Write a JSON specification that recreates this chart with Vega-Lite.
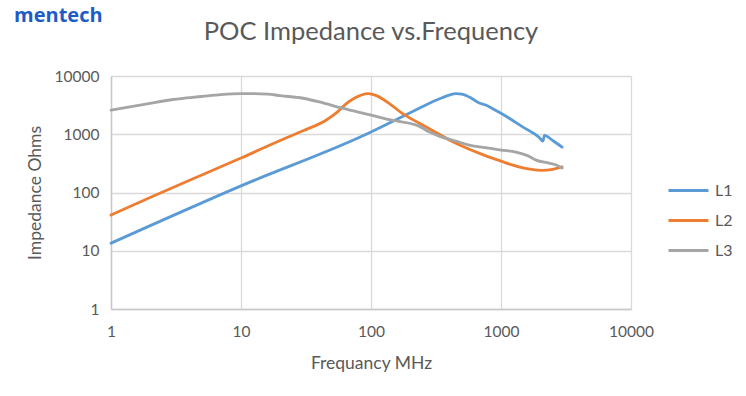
{
  "$schema": "https://vega.github.io/schema/vega-lite/v6.json",
  "padding": {"left": 14, "top": 5, "right": 5, "bottom": 5},
  "background": "white",
  "title": {"text": "mentech", "anchor": "start", "frame": "bounds", "font": "Open Sans", "fontSize": 20, "fontWeight": "bold", "color": "#1D5BC6", "offset": -6, "dx": -12},
  "config": {
    "view": {"stroke": null},
    "font": "Lato",
    "axis": {
      "gridColor": "#D9D9D9", "gridWidth": 1.3, "domainColor": "#C8C8C8", "domainWidth": 1.5,
      "ticks": false, "labelFlush": false, "labelOverlap": false, "labelColor": "#595959", "labelFont": "Lato", "labelFontSize": 15.5,
      "titleColor": "#595959", "titleFont": "Lato", "titleFontSize": 17.5, "titleFontWeight": "normal"
    },
    "legend": {"labelColor": "#595959", "labelFont": "Lato", "labelFontSize": 16}
  },
  "vconcat": [
    {
      "width": 520,
      "height": 233,
      "title": {"text": "POC Impedance vs.Frequency", "fontSize": 25.5, "color": "#595959", "font": "Lato", "fontWeight": "normal", "anchor": "middle", "offset": 24},
      "data": {"values": [
        {"f": 1, "z": 13.5, "s": "L1"},
        {"f": 10, "z": 130, "s": "L1"},
        {"f": 100, "z": 1090, "s": "L1"},
        {"f": 150, "z": 1700, "s": "L1"},
        {"f": 200, "z": 2350, "s": "L1"},
        {"f": 250, "z": 3000, "s": "L1"},
        {"f": 300, "z": 3650, "s": "L1"},
        {"f": 350, "z": 4200, "s": "L1"},
        {"f": 400, "z": 4700, "s": "L1"},
        {"f": 450, "z": 5000, "s": "L1"},
        {"f": 510, "z": 4850, "s": "L1"},
        {"f": 570, "z": 4350, "s": "L1"},
        {"f": 680, "z": 3450, "s": "L1"},
        {"f": 770, "z": 3150, "s": "L1"},
        {"f": 850, "z": 2800, "s": "L1"},
        {"f": 1000, "z": 2290, "s": "L1"},
        {"f": 1500, "z": 1300, "s": "L1"},
        {"f": 1960, "z": 890, "s": "L1"},
        {"f": 2100, "z": 760, "s": "L1"},
        {"f": 2160, "z": 960, "s": "L1"},
        {"f": 2500, "z": 780, "s": "L1"},
        {"f": 2950, "z": 600, "s": "L1"},
        {"f": 1, "z": 41, "s": "L2"},
        {"f": 2, "z": 82, "s": "L2"},
        {"f": 5, "z": 200, "s": "L2"},
        {"f": 10, "z": 390, "s": "L2"},
        {"f": 20, "z": 780, "s": "L2"},
        {"f": 30, "z": 1150, "s": "L2"},
        {"f": 45, "z": 1740, "s": "L2"},
        {"f": 55, "z": 2400, "s": "L2"},
        {"f": 64, "z": 3300, "s": "L2"},
        {"f": 75, "z": 4200, "s": "L2"},
        {"f": 95, "z": 5000, "s": "L2"},
        {"f": 110, "z": 4600, "s": "L2"},
        {"f": 140, "z": 3300, "s": "L2"},
        {"f": 173, "z": 2300, "s": "L2"},
        {"f": 234, "z": 1560, "s": "L2"},
        {"f": 300, "z": 1150, "s": "L2"},
        {"f": 400, "z": 800, "s": "L2"},
        {"f": 500, "z": 630, "s": "L2"},
        {"f": 700, "z": 460, "s": "L2"},
        {"f": 1000, "z": 345, "s": "L2"},
        {"f": 1370, "z": 275, "s": "L2"},
        {"f": 2050, "z": 240, "s": "L2"},
        {"f": 2500, "z": 250, "s": "L2"},
        {"f": 2950, "z": 275, "s": "L2"},
        {"f": 1, "z": 2600, "s": "L3"},
        {"f": 2, "z": 3400, "s": "L3"},
        {"f": 3, "z": 3950, "s": "L3"},
        {"f": 5, "z": 4450, "s": "L3"},
        {"f": 7, "z": 4800, "s": "L3"},
        {"f": 10, "z": 5000, "s": "L3"},
        {"f": 16, "z": 4900, "s": "L3"},
        {"f": 20, "z": 4600, "s": "L3"},
        {"f": 30, "z": 4150, "s": "L3"},
        {"f": 40, "z": 3600, "s": "L3"},
        {"f": 60, "z": 2800, "s": "L3"},
        {"f": 100, "z": 2130, "s": "L3"},
        {"f": 145, "z": 1740, "s": "L3"},
        {"f": 234, "z": 1380, "s": "L3"},
        {"f": 280, "z": 1100, "s": "L3"},
        {"f": 334, "z": 930, "s": "L3"},
        {"f": 450, "z": 760, "s": "L3"},
        {"f": 570, "z": 650, "s": "L3"},
        {"f": 800, "z": 580, "s": "L3"},
        {"f": 1000, "z": 535, "s": "L3"},
        {"f": 1300, "z": 495, "s": "L3"},
        {"f": 1600, "z": 430, "s": "L3"},
        {"f": 1860, "z": 360, "s": "L3"},
        {"f": 2340, "z": 320, "s": "L3"},
        {"f": 2630, "z": 300, "s": "L3"},
        {"f": 2950, "z": 262, "s": "L3"}
      ]},
      "mark": {"type": "line", "interpolate": "monotone", "strokeWidth": 2.8, "strokeCap": "round", "strokeJoin": "round"},
      "encoding": {
        "x": {"field": "f", "type": "quantitative", "title": "Frequancy MHz",
          "scale": {"type": "log", "domain": [1, 10000], "nice": false},
          "axis": {"values": [1, 10, 100, 1000, 10000], "format": "d", "labelPadding": 15, "titlePadding": 15}},
        "y": {"field": "z", "type": "quantitative", "title": "Impedance Ohms",
          "scale": {"type": "log", "domain": [1, 10000], "nice": false},
          "axis": {"values": [1, 10, 100, 1000, 10000], "format": "d", "labelPadding": 12, "titlePadding": 10}},
        "color": {"field": "s", "type": "nominal", "title": null,
          "scale": {"domain": ["L1", "L2", "L3"], "range": ["#5B9BD5", "#ED7D31", "#A5A5A5"]},
          "legend": {"orient": "none", "legendX": 556, "legendY": 93, "symbolType": "stroke", "symbolSize": 1600, "symbolStrokeWidth": 3, "rowPadding": -13.5, "labelOffset": 5}}
      }
    }
  ]
}
